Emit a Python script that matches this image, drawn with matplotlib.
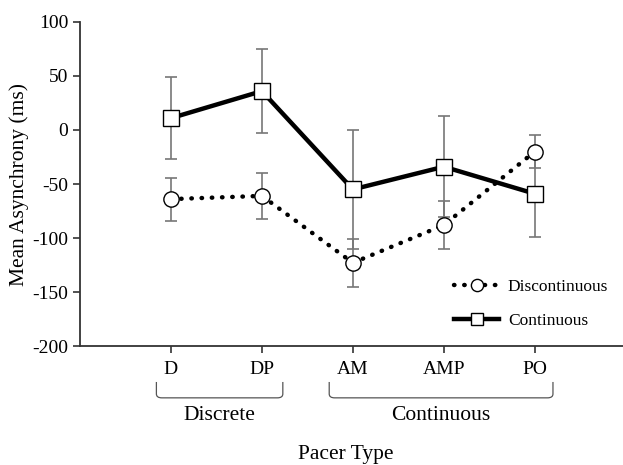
import matplotlib.pyplot as plt
import numpy as np
from matplotlib.path import Path
from matplotlib.patches import PathPatch

plt.rcParams['font.family'] = ['Liberation Serif', 'DejaVu Serif']
plt.rcParams['axes.unicode_minus'] = False

pacers = ['D', 'DP', 'AM', 'AMP', 'PO']
disc_mean = [-64, -61, -123, -88, -20]
disc_err = [20, 21, 22, 22, 15]
cont_mean = [11, 36, -55, -34, -59]
cont_err = [38, 39, 55, 47, 40]

groups = ['Discrete', 'Continuous']
group_spans = [(0.84, 2.23), (2.74, 5.2)]

x = np.arange(1, len(pacers) + 1)

fig = plt.figure(figsize=(6.23, 4.65), dpi=100)
ax = fig.add_axes([0.1284, 0.2559, 0.8716, 0.6968])

err_col = '#777777'
ax.errorbar(x, disc_mean, yerr=disc_err, fmt='none', ecolor=err_col,
            elinewidth=1.2, capsize=4, capthick=1.2, zorder=1)
ax.errorbar(x, cont_mean, yerr=cont_err, fmt='none', ecolor=err_col,
            elinewidth=1.2, capsize=4, capthick=1.2, zorder=1)

ax.plot(x, disc_mean, linestyle=(0, (0.1, 2.2)), dash_capstyle='round',
        linewidth=3.2, color='black', marker='o', markersize=11,
        markerfacecolor='white', markeredgecolor='black', markeredgewidth=1,
        label='Discontinuous', zorder=3)
ax.plot(x, cont_mean, linestyle='-', linewidth=3.2, color='black',
        marker='s', markersize=11, markerfacecolor='white',
        markeredgecolor='black', markeredgewidth=1,
        label='Continuous', zorder=4)

ax.set_xlim(0, 5.97)
ax.set_ylim(-200, 100)
ax.set_yticks(np.arange(-200, 101, 50))
ax.set_xticks(x)
ax.set_xticklabels(pacers)
ax.tick_params(axis='both', direction='out', length=5, width=1.2,
               labelsize=14, color='#333333')
ax.tick_params(axis='x', pad=6)
for s in ['top', 'right']:
    ax.spines[s].set_visible(False)
for s in ['left', 'bottom']:
    ax.spines[s].set_linewidth(1.3)
    ax.spines[s].set_color('#333333')

ax.set_ylabel('Mean Asynchrony (ms)', fontsize=15.5, labelpad=2)

# group brackets under the tick labels
trans = ax.get_xaxis_transform()
y_top, y_bot, r = -0.111, -0.16, 0.06
for name, (x0, x1) in zip(groups, group_spans):
    verts = [(x0, y_top), (x0, y_bot + 0.012), (x0, y_bot), (x0 + r, y_bot),
             (x1 - r, y_bot), (x1, y_bot), (x1, y_bot + 0.012), (x1, y_top)]
    codes = [Path.MOVETO, Path.LINETO, Path.CURVE3, Path.CURVE3,
             Path.LINETO, Path.CURVE3, Path.CURVE3, Path.LINETO]
    ax.add_patch(PathPatch(Path(verts, codes), transform=trans, fill=False,
                           edgecolor='#555555', linewidth=0.9, clip_on=False))
    ax.text((x0 + x1) / 2, -0.213, name, transform=trans, ha='center',
            va='center', fontsize=15.5)

ax.text(2.92, -0.336, 'Pacer Type', transform=trans, ha='center',
        va='center', fontsize=15.5)

ax.legend(loc='center left', bbox_to_anchor=(0.66, 0.13), frameon=False,
          fontsize=12.5, handlelength=2.6, handletextpad=0.5, labelspacing=1.0,
          numpoints=1, markerscale=0.8)

fig.savefig('out.png', dpi=100)
